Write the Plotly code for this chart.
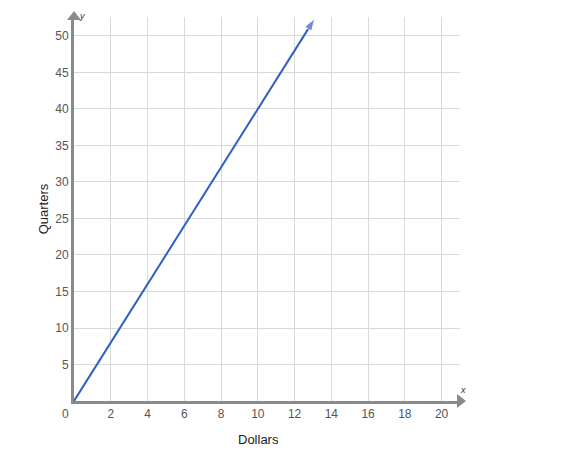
import plotly.graph_objects as go

# data
dollars = [0, 13.1]
quarters = [0, 52.4]
x_ticks = [2, 4, 6, 8, 10, 12, 14, 16, 18, 20]
y_ticks = [5, 10, 15, 20, 25, 30, 35, 40, 45, 50]
x_max = 21
y_max = 52.6

axis_col = "#8a8a8a"
grid_col = "#d9d9d9"
font_fam = "Liberation Sans, Arial, sans-serif"

fig = go.Figure()

# line y = 4x with arrow head
fig.add_trace(go.Scatter(
    x=dollars, y=quarters, mode="lines+markers",
    line=dict(color="#2f5fbf", width=2),
    marker=dict(symbol=["circle", "arrow"], size=[0, 13], angleref="previous",
                color="#2f5fbf"),
    cliponaxis=False, hoverinfo="skip", showlegend=False,
))

# axis arrow heads
fig.add_trace(go.Scatter(
    x=[x_max, 0], y=[0, y_max], mode="markers",
    marker=dict(symbol=["triangle-right", "triangle-up"], size=12, color=axis_col),
    cliponaxis=False, hoverinfo="skip", showlegend=False,
))

fig.update_xaxes(
    range=[0, x_max], tickvals=x_ticks, showgrid=True, gridcolor=grid_col, gridwidth=1,
    zeroline=False, showline=True, linecolor=axis_col, linewidth=3,
    tickfont=dict(size=12, color="#555", family=font_fam), ticks="",
    fixedrange=True,
)
fig.update_yaxes(
    range=[0, y_max], tickvals=y_ticks, showgrid=True, gridcolor=grid_col, gridwidth=1,
    zeroline=False, showline=True, linecolor=axis_col, linewidth=3,
    tickfont=dict(size=12, color="#555", family=font_fam), ticks="",
    title=dict(text="Quarters", font=dict(size=13, color="#222", family=font_fam), standoff=4),
    fixedrange=True,
)

fig.add_annotation(x=0.477, y=0, xref="paper", yref="paper", text="Dollars", showarrow=False,
                   xanchor="center", yanchor="top", yshift=-29,
                   font=dict(size=13, color="#222", family=font_fam))
fig.add_annotation(x=0, y=0, text="0", showarrow=False, xanchor="right", yanchor="top",
                   xshift=-3, yshift=-4, font=dict(size=12, color="#555", family=font_fam))
fig.add_annotation(x=0, y=y_max, text="<i>y</i>", showarrow=False, xanchor="left", yanchor="bottom",
                   xshift=3, yshift=-6, font=dict(size=9, color="#333", family=font_fam))
fig.add_annotation(x=x_max, y=0, text="<i>x</i>", showarrow=False, xanchor="left", yanchor="bottom",
                   xshift=-2, yshift=4, font=dict(size=9, color="#333", family=font_fam))

fig.update_layout(
    width=562, height=459,
    margin=dict(l=66, r=110, t=9, b=66),
    plot_bgcolor="#fff", paper_bgcolor="#fff",
    font=dict(family=font_fam),
)

fig.write_html("out.html")
